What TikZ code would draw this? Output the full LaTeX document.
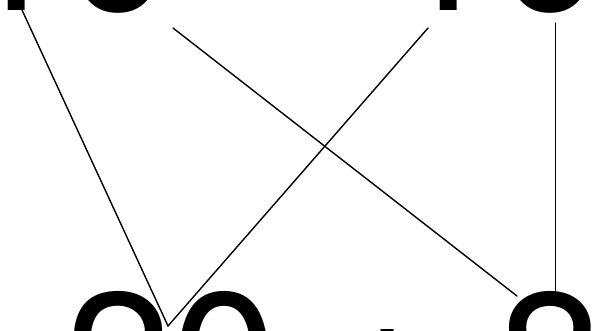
\documentclass[tikz,border=0pt]{standalone}
\usepackage{fontspec}
\setmainfont{TeX Gyre Heros}

\tikzset{
  term/.style={inner sep=0pt, outer sep=0pt, anchor=base west,
    font=\fontsize{192}{192}\selectfont},
  link/.style={line width=1.4pt, line cap=round},
}

\begin{document}
\begin{tikzpicture}[x=1pt, y=-1pt]
  \useasboundingbox (0,0) rectangle (605,330);
  \clip (0,0) rectangle (605,330);
  % Top row: 10 + 10
  \node[term] (tenA) at (-41.5,10) {10};
  \node[term] (plusA) at (225.4,3.5) {+};
  \node[term] (tenB) at (390.9,10) {10};
  % Bottom row: 20 + 8
  \node[term] (twenty) at (64.8,427) {20};
  \node[term] (plusB) at (331.8,420.5) {+};
  \node[term] (eight) at (497.2,427) {8};
  % Ends of the links.
  \coordinate (tenAone) at (22,10);
  \coordinate (tenAzero) at (173,28);
  \coordinate (tenBone) at (428,28);
  \coordinate (tenBzero) at (555.5,23);
  \coordinate (twentyTop) at (168,326);
  \coordinate (eightTop) at (517,296);
  \coordinate (eightCap) at (555.5,292);
  % Links between the digits.
  \draw[link] (tenAone) -- (twentyTop);
  \draw[link] (tenAzero) -- (eightTop);
  \draw[link] (tenBone) -- (twentyTop);
  \draw[link] (tenBzero) -- (eightCap);
\end{tikzpicture}
\end{document}
